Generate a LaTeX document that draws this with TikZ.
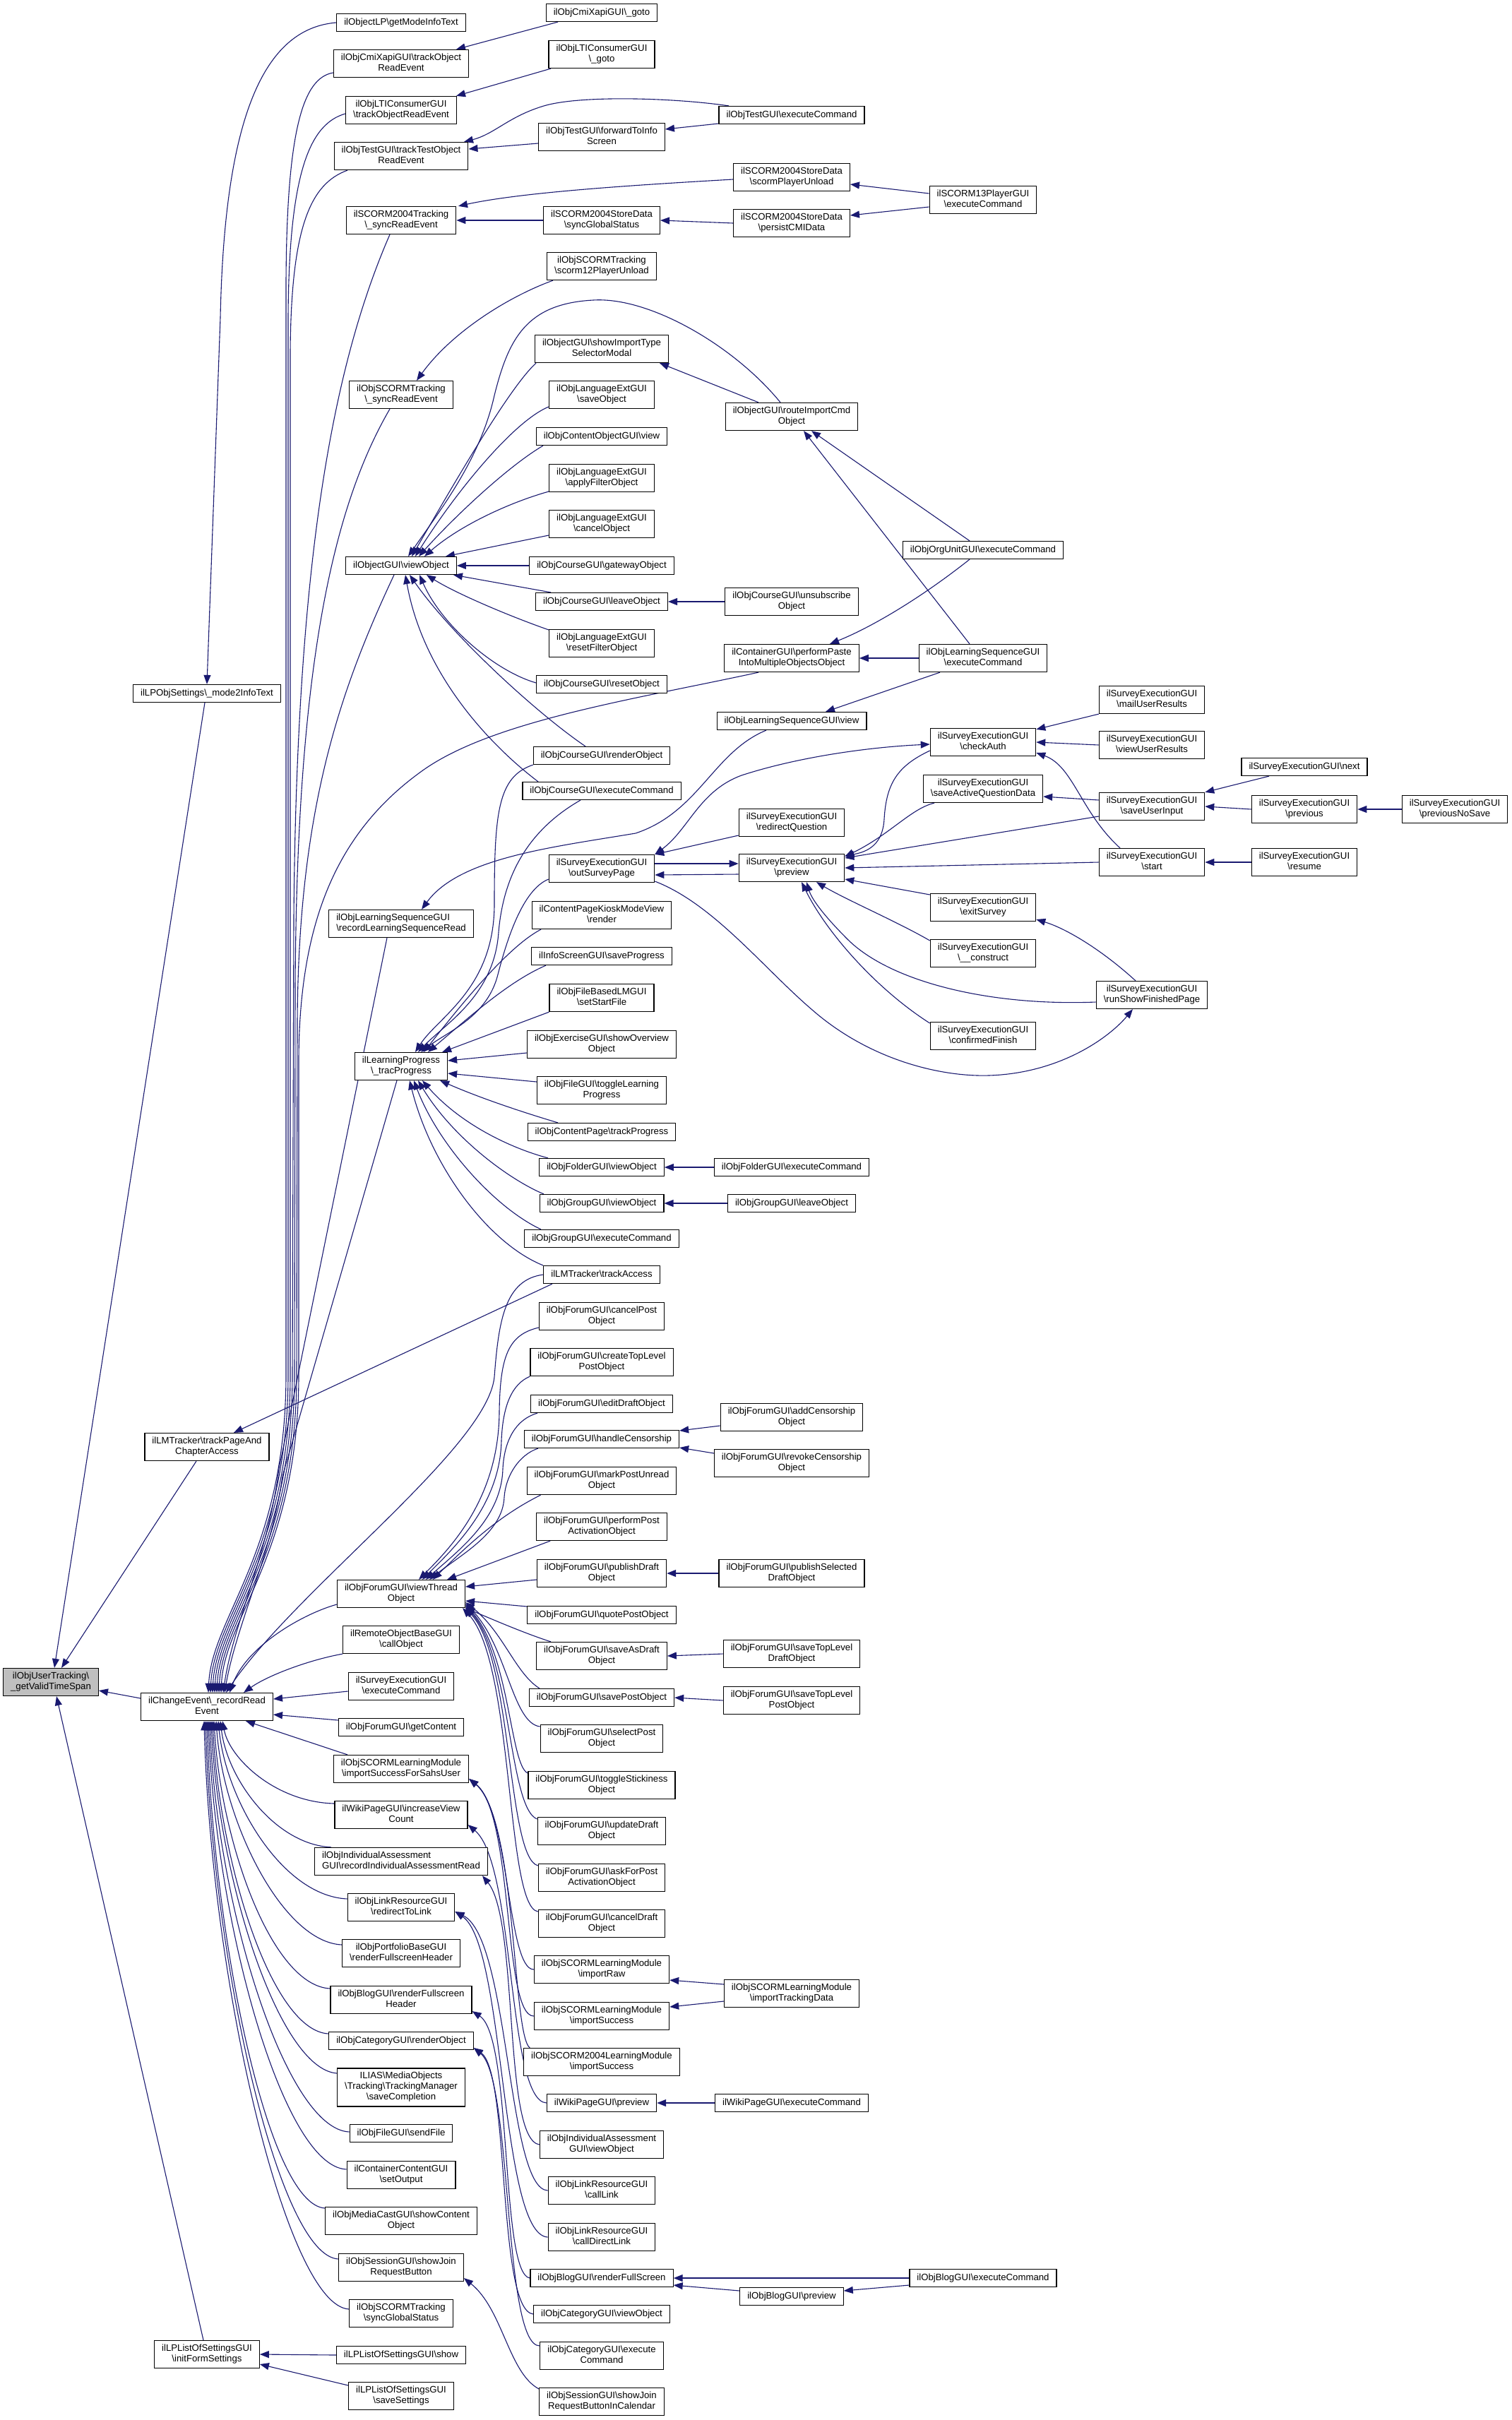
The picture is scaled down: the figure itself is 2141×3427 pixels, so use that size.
\documentclass[tikz,border=0pt]{standalone}
\usepackage{fontspec}
\setmainfont{Liberation Sans}
\usetikzlibrary{arrows.meta}
\definecolor{edgec}{HTML}{191970}
\definecolor{rootgray}{HTML}{BFBFBF}
\newcommand{\BSL}{\textbackslash}
\newcommand{\mknode}[4]{\node[nb] (#1) at (#2,#3) {#4};}
\pgfdeclarelayer{bg}
\pgfsetlayers{bg,main}
\begin{document}
\begin{tikzpicture}[x=1pt,y=-1pt,
  nb/.style={draw=black,line width=1.2pt,fill=white,align=center,font=\fontsize{13.2}{15}\selectfont,inner xsep=10.5pt,inner ysep=5pt,execute at begin node=\strut,execute at end node=\strut},
  edg/.style={draw=edgec,line width=1.1pt,-{Triangle[length=13pt,width=10pt]}},
  edgb/.style={draw=edgec,line width=1.1pt,{Triangle[length=13pt,width=10pt]}-{Triangle[length=13pt,width=10pt]}}]
\useasboundingbox (0,0) rectangle (2141,3427);
% ---------- nodes ----------
\node[nb,fill=rootgray] (root) at (72,2382) {ilObjUserTracking\BSL\\\_getValidTimeSpan};
\mknode{mode2}{293}{982}{ilLPObjSettings\BSL\_mode2InfoText}
\mknode{lmpage}{293}{2049}{ilLMTracker\BSL{}trackPageAnd\\ChapterAccess}
\mknode{chev}{293}{2417}{ilChangeEvent\BSL\_recordRead\\Event}
\mknode{initform}{293}{3334}{ilLPListOfSettingsGUI\\\BSL{}initFormSettings}
% column C
\mknode{getmode}{568}{32}{ilObjectLP\BSL{}getModeInfoText}
\mknode{cmitrack}{568}{90}{ilObjCmiXapiGUI\BSL{}trackObject\\ReadEvent}
\mknode{ltitrack}{568}{156}{ilObjLTIConsumerGUI\\\BSL{}trackObjectReadEvent}
\mknode{testtrack}{568}{221}{ilObjTestGUI\BSL{}trackTestObject\\ReadEvent}
\mknode{scosync}{568}{312}{ilSCORM2004Tracking\\\BSL\_syncReadEvent}
\mknode{objscosync}{568}{559}{ilObjSCORMTracking\\\BSL\_syncReadEvent}
\mknode{viewobj}{568}{801}{ilObjectGUI\BSL{}viewObject}
\node[nb,align=left] (lsread) at (568,1308) {ilObjLearningSequenceGUI\\\BSL{}recordLearningSequenceRead};
\mknode{tracprog}{568}{1510}{ilLearningProgress\\\BSL\_tracProgress}
\mknode{viewthread}{568}{2257}{ilObjForumGUI\BSL{}viewThread\\Object}
\mknode{callobj}{568}{2322}{ilRemoteObjectBaseGUI\\\BSL{}callObject}
\mknode{svexec}{568}{2388}{ilSurveyExecutionGUI\\\BSL{}executeCommand}
\mknode{getcontent}{568}{2446}{ilObjForumGUI\BSL{}getContent}
\mknode{impsahs}{568}{2505}{ilObjSCORMLearningModule\\\BSL{}importSuccessForSahsUser}
\mknode{incview}{568}{2570}{ilWikiPageGUI\BSL{}increaseView\\Count}
\node[nb,align=left] (iaread) at (568,2636) {ilObjIndividualAssessment\\GUI\BSL{}recordIndividualAssessmentRead};
\mknode{redirlink}{568}{2701}{ilObjLinkResourceGUI\\\BSL{}redirectToLink}
\mknode{portfolio}{568}{2766}{ilObjPortfolioBaseGUI\\\BSL{}renderFullscreenHeader}
\mknode{blogheader}{568}{2832}{ilObjBlogGUI\BSL{}renderFullscreen\\Header}
\mknode{catrender}{568}{2890}{ilObjCategoryGUI\BSL{}renderObject}
\mknode{ilias}{568}{2956}{ILIAS\BSL{}MediaObjects\\\BSL{}Tracking\BSL{}TrackingManager\\\BSL{}saveCompletion}
\mknode{sendfile}{568}{3021}{ilObjFileGUI\BSL{}sendFile}
\mknode{setoutput}{568}{3080}{ilContainerContentGUI\\\BSL{}setOutput}
\mknode{mediacast}{568}{3145}{ilObjMediaCastGUI\BSL{}showContent\\Object}
\mknode{showjoin}{568}{3211}{ilObjSessionGUI\BSL{}showJoin\\RequestButton}
\mknode{syncglobal}{568}{3276}{ilObjSCORMTracking\\\BSL{}syncGlobalStatus}
\mknode{lpshow}{568}{3335}{ilLPListOfSettingsGUI\BSL{}show}
\mknode{lpsave}{568}{3393}{ilLPListOfSettingsGUI\\\BSL{}saveSettings}
% column D
\mknode{cmigoto}{852}{18}{ilObjCmiXapiGUI\BSL\_goto}
\mknode{ltigoto}{852}{77}{ilObjLTIConsumerGUI\\\BSL\_goto}
\mknode{fwdinfo}{852}{194}{ilObjTestGUI\BSL{}forwardToInfo\\Screen}
\mknode{sdsync}{852}{312}{ilSCORM2004StoreData\\\BSL{}syncGlobalStatus}
\mknode{scounload}{852}{377}{ilObjSCORMTracking\\\BSL{}scorm12PlayerUnload}
\mknode{importsel}{852}{494}{ilObjectGUI\BSL{}showImportType\\SelectorModal}
\mknode{lsave}{852}{559}{ilObjLanguageExtGUI\\\BSL{}saveObject}
\mknode{covew}{852}{618}{ilObjContentObjectGUI\BSL{}view}
\mknode{lapply}{852}{677}{ilObjLanguageExtGUI\\\BSL{}applyFilterObject}
\mknode{lcancel}{852}{742}{ilObjLanguageExtGUI\\\BSL{}cancelObject}
\mknode{crsgw}{852}{801}{ilObjCourseGUI\BSL{}gatewayObject}
\mknode{crsleave}{852}{852}{ilObjCourseGUI\BSL{}leaveObject}
\mknode{lreset}{852}{911}{ilObjLanguageExtGUI\\\BSL{}resetFilterObject}
\mknode{crsreset}{852}{969}{ilObjCourseGUI\BSL{}resetObject}
\mknode{crsrender}{852}{1070}{ilObjCourseGUI\BSL{}renderObject}
\mknode{crsexec}{852}{1120}{ilObjCourseGUI\BSL{}executeCommand}
\mknode{outsurvey}{852}{1230}{ilSurveyExecutionGUI\\\BSL{}outSurveyPage}
\mknode{kiosk}{852}{1296}{ilContentPageKioskModeView\\\BSL{}render}
\mknode{saveprog}{852}{1354}{ilInfoScreenGUI\BSL{}saveProgress}
\mknode{setstart}{852}{1413}{ilObjFileBasedLMGUI\\\BSL{}setStartFile}
\mknode{exoverview}{852}{1479}{ilObjExerciseGUI\BSL{}showOverview\\Object}
\mknode{filetoggle}{852}{1544}{ilObjFileGUI\BSL{}toggleLearning\\Progress}
\mknode{cptrack}{852}{1603}{ilObjContentPage\BSL{}trackProgress}
\mknode{fldview}{852}{1653}{ilObjFolderGUI\BSL{}viewObject}
\mknode{grpview}{852}{1704}{ilObjGroupGUI\BSL{}viewObject}
\mknode{grpexec}{852}{1754}{ilObjGroupGUI\BSL{}executeCommand}
\mknode{lmaccess}{852}{1805}{ilLMTracker\BSL{}trackAccess}
\mknode{fcancelpost}{852}{1864}{ilObjForumGUI\BSL{}cancelPost\\Object}
\mknode{fcreatetop}{852}{1929}{ilObjForumGUI\BSL{}createTopLevel\\PostObject}
\mknode{feditdraft}{852}{1988}{ilObjForumGUI\BSL{}editDraftObject}
\mknode{fcensor}{852}{2038}{ilObjForumGUI\BSL{}handleCensorship}
\mknode{fmarkunread}{852}{2097}{ilObjForumGUI\BSL{}markPostUnread\\Object}
\mknode{fperfact}{852}{2162}{ilObjForumGUI\BSL{}performPost\\ActivationObject}
\mknode{fpubdraft}{852}{2228}{ilObjForumGUI\BSL{}publishDraft\\Object}
\mknode{fquote}{852}{2287}{ilObjForumGUI\BSL{}quotePostObject}
\mknode{fsavedraft}{852}{2345}{ilObjForumGUI\BSL{}saveAsDraft\\Object}
\mknode{fsavepost}{852}{2404}{ilObjForumGUI\BSL{}savePostObject}
\mknode{fselect}{852}{2462}{ilObjForumGUI\BSL{}selectPost\\Object}
\mknode{ftoggle}{852}{2528}{ilObjForumGUI\BSL{}toggleStickiness\\Object}
\mknode{fupddraft}{852}{2593}{ilObjForumGUI\BSL{}updateDraft\\Object}
\mknode{faskact}{852}{2659}{ilObjForumGUI\BSL{}askForPost\\ActivationObject}
\mknode{fcanceldraft}{852}{2724}{ilObjForumGUI\BSL{}cancelDraft\\Object}
\mknode{scoimpraw}{852}{2789}{ilObjSCORMLearningModule\\\BSL{}importRaw}
\mknode{scoimpsucc}{852}{2855}{ilObjSCORMLearningModule\\\BSL{}importSuccess}
\mknode{sco04imp}{852}{2920}{ilObjSCORM2004LearningModule\\\BSL{}importSuccess}
\mknode{wikiprev}{852}{2978}{ilWikiPageGUI\BSL{}preview}
\mknode{iaview}{852}{3037}{ilObjIndividualAssessment\\GUI\BSL{}viewObject}
\mknode{calllink}{852}{3102}{ilObjLinkResourceGUI\\\BSL{}callLink}
\mknode{calldirect}{852}{3168}{ilObjLinkResourceGUI\\\BSL{}callDirectLink}
\mknode{blogfull}{852}{3226}{ilObjBlogGUI\BSL{}renderFullScreen}
\mknode{catview}{852}{3277}{ilObjCategoryGUI\BSL{}viewObject}
\mknode{catexec}{852}{3336}{ilObjCategoryGUI\BSL{}execute\\Command}
\mknode{sessioncal}{852}{3401}{ilObjSessionGUI\BSL{}showJoin\\RequestButtonInCalendar}
% column E
\mknode{testexec}{1121}{163}{ilObjTestGUI\BSL{}executeCommand}
\mknode{scoplayerunload}{1121}{251}{ilSCORM2004StoreData\\\BSL{}scormPlayerUnload}
\mknode{persist}{1121}{316}{ilSCORM2004StoreData\\\BSL{}persistCMIData}
\mknode{routeimport}{1121}{590}{ilObjectGUI\BSL{}routeImportCmd\\Object}
\mknode{unsubscribe}{1121}{852}{ilObjCourseGUI\BSL{}unsubscribe\\Object}
\mknode{paste}{1121}{932}{ilContainerGUI\BSL{}performPaste\\IntoMultipleObjectsObject}
\mknode{lsview}{1121}{1021}{ilObjLearningSequenceGUI\BSL{}view}
\mknode{redirq}{1121}{1165}{ilSurveyExecutionGUI\\\BSL{}redirectQuestion}
\mknode{svpreview}{1121}{1229}{ilSurveyExecutionGUI\\\BSL{}preview}
\mknode{fldexec}{1121}{1653}{ilObjFolderGUI\BSL{}executeCommand}
\mknode{grpleave}{1121}{1704}{ilObjGroupGUI\BSL{}leaveObject}
\mknode{addcensor}{1121}{2007}{ilObjForumGUI\BSL{}addCensorship\\Object}
\mknode{revokecensor}{1121}{2072}{ilObjForumGUI\BSL{}revokeCensorship\\Object}
\mknode{pubselected}{1121}{2228}{ilObjForumGUI\BSL{}publishSelected\\DraftObject}
\mknode{savetopdraft}{1121}{2342}{ilObjForumGUI\BSL{}saveTopLevel\\DraftObject}
\mknode{savetoppost}{1121}{2408}{ilObjForumGUI\BSL{}saveTopLevel\\PostObject}
\mknode{imptracking}{1121}{2823}{ilObjSCORMLearningModule\\\BSL{}importTrackingData}
\mknode{wikiexec}{1121}{2978}{ilWikiPageGUI\BSL{}executeCommand}
\mknode{blogprev}{1121}{3252}{ilObjBlogGUI\BSL{}preview}
% column F
\mknode{sco13}{1392}{283}{ilSCORM13PlayerGUI\\\BSL{}executeCommand}
\mknode{orgunit}{1392}{779}{ilObjOrgUnitGUI\BSL{}executeCommand}
\mknode{lsexec}{1392}{932}{ilObjLearningSequenceGUI\\\BSL{}executeCommand}
\mknode{checkauth}{1392}{1051}{ilSurveyExecutionGUI\\\BSL{}checkAuth}
\mknode{saveactive}{1392}{1117}{ilSurveyExecutionGUI\\\BSL{}saveActiveQuestionData}
\mknode{exitsurvey}{1392}{1285}{ilSurveyExecutionGUI\\\BSL{}exitSurvey}
\mknode{construct}{1392}{1350}{ilSurveyExecutionGUI\\\BSL\_\_construct}
\mknode{confirmfinish}{1392}{1467}{ilSurveyExecutionGUI\\\BSL{}confirmedFinish}
\mknode{blogexec}{1392}{3226}{ilObjBlogGUI\BSL{}executeCommand}
% column G, H, I
\mknode{mailres}{1631}{991}{ilSurveyExecutionGUI\\\BSL{}mailUserResults}
\mknode{viewres}{1631}{1055}{ilSurveyExecutionGUI\\\BSL{}viewUserResults}
\mknode{saveinput}{1631}{1142}{ilSurveyExecutionGUI\\\BSL{}saveUserInput}
\mknode{svstart}{1631}{1221}{ilSurveyExecutionGUI\\\BSL{}start}
\mknode{runfinished}{1631}{1409}{ilSurveyExecutionGUI\\\BSL{}runShowFinishedPage}
\mknode{svnext}{1847}{1086}{ilSurveyExecutionGUI\BSL{}next}
\mknode{svprev}{1847}{1146}{ilSurveyExecutionGUI\\\BSL{}previous}
\mknode{svresume}{1847}{1221}{ilSurveyExecutionGUI\\\BSL{}resume}
\mknode{prevnosave}{2060}{1146}{ilSurveyExecutionGUI\\\BSL{}previousNoSave}
% ---------- edges ----------
\begin{pgfonlayer}{bg}
\fill[white] (0,0) rectangle (2141,3427);
% into root
\draw[edg] ([xshift=-3]mode2.south) -- ([xshift=5]root.north);
\draw[edg] ([xshift=-15]lmpage.south) -- ([xshift=15]root.north);
\draw[edg] ([yshift=12]chev.west) -- ([yshift=-12]root.east);
\draw[edg] ([xshift=-5]initform.north) -- ([xshift=8]root.south);
% into level B
\draw[edg] (getmode.west) .. controls (380,40) and (318,150) .. (312,450) -- (mode2.north);
\draw[edg] ([xshift=-70]lmaccess.south) -- ([xshift=38]lmpage.north);
\draw[edg] (lpshow.west) -- (initform.east);
\draw[edg] ([yshift=15]lpsave.west) -- ([yshift=-14]initform.east);
% into chev, top bundle
\draw[edg] ([yshift=-13]cmitrack.west) .. controls (430,110) and (406,180) .. (405,400) -- (405,1950) .. controls (404,2200) and (300,2290) .. ([xshift=2]chev.north);
\draw[edg] ([yshift=-5]ltitrack.west) .. controls (440,175) and (409,240) .. (408,450) -- (408,1950) .. controls (407,2200) and (303,2290) .. ([xshift=5]chev.north);
\draw[edg] ([xshift=-76]testtrack.south) .. controls (440,260) and (412,320) .. (411,500) -- (411,1950) .. controls (410,2200) and (306,2290) .. ([xshift=8]chev.north);
\draw[edg] ([xshift=-16]scosync.south) .. controls (470,520) and (420,800) .. (416,1300) -- (414,1950) .. controls (413,2200) and (309,2290) .. ([xshift=11]chev.north);
\draw[edg] ([xshift=-16]objscosync.south) .. controls (470,720) and (420,950) .. (418,1400) -- (417,1950) .. controls (416,2200) and (312,2290) .. ([xshift=14]chev.north);
\draw[edg] ([xshift=-10]viewobj.south) .. controls (480,980) and (422,1150) .. (421,1450) -- (420,1950) .. controls (419,2200) and (315,2290) .. ([xshift=17]chev.north);
\draw[edg] ([xshift=-47]paste.south) .. controls (900,990) and (700,1020) .. (600,1090) .. controls (480,1175) and (424,1300) .. (423,1500) -- (423,1950) .. controls (422,2200) and (318,2290) .. ([xshift=20]chev.north);
\draw[edg] ([xshift=-20]lsread.south) -- (395,2080) .. controls (380,2200) and (330,2300) .. ([xshift=23]chev.north);
\draw[edg] ([xshift=-6]tracprog.south) -- (400,2090) .. controls (385,2200) and (335,2300) .. ([xshift=25]chev.north);
\draw[edg] (lmaccess.west) .. controls (715,1812) and (706,1870) .. (700,1950) .. controls (690,2050) and (420,2250) .. ([xshift=27]chev.north);
\draw[edg] ([yshift=-15]viewthread.west) .. controls (430,2285) and (350,2330) .. ([xshift=32]chev.north);
\draw[edg] (callobj.south west) .. controls (440,2350) and (380,2372) .. ([xshift=52]chev.north);
% into chev, right side
\draw[edg] ([yshift=-7]svexec.west) -- ([yshift=11]chev.east);
\draw[edg] ([yshift=10]getcontent.west) -- ([yshift=-11]chev.east);
\draw[edg] ([xshift=-76]impsahs.north) -- ([xshift=55]chev.south);
% into chev, bottom fan
\draw[edg] ([yshift=16]incview.west) .. controls (390,2552) and (325,2490) .. ([xshift=22]chev.south);
\draw[edg] ([xshift=24]iaread.north west) .. controls (390,2612) and (322,2520) .. ([xshift=19]chev.south);
\draw[edg] ([yshift=12]redirlink.west) .. controls (400,2685) and (320,2550) .. ([xshift=16]chev.south);
\draw[edg] ([yshift=12]portfolio.west) .. controls (400,2750) and (316,2580) .. ([xshift=13]chev.south);
\draw[edg] ([yshift=16]blogheader.west) .. controls (385,2812) and (313,2610) .. ([xshift=10]chev.south);
\draw[edg] ([yshift=10]catrender.west) .. controls (385,2876) and (311,2640) .. ([xshift=8]chev.south);
\draw[edg] ([yshift=20]ilias.west) .. controls (395,2930) and (309,2660) .. ([xshift=6]chev.south);
\draw[edg] ([yshift=2]sendfile.west) .. controls (405,3015) and (307,2700) .. ([xshift=4]chev.south);
\draw[edg] ([yshift=8]setoutput.west) .. controls (400,3068) and (305,2720) .. ([xshift=2]chev.south);
\draw[edg] ([yshift=18]mediacast.west) .. controls (380,3122) and (303,2750) .. (chev.south);
\draw[edg] ([yshift=12]showjoin.west) .. controls (395,3195) and (301,2780) .. ([xshift=-2]chev.south);
\draw[edg] ([yshift=6]syncglobal.west) .. controls (406,3265) and (299,2810) .. ([xshift=-4]chev.south);
% top area
\draw[edg] ([xshift=-62]cmigoto.south) -- ([xshift=78]cmitrack.north);
\draw[edg] ([xshift=-72]ltigoto.south) -- ([xshift=78]ltitrack.north);
\draw[edg] ([yshift=-9]fwdinfo.west) -- ([yshift=10]testtrack.east);
\draw[edg] ([yshift=-12]testexec.west) -- ([yshift=11]fwdinfo.east);
\draw[edg] ([xshift=-89]testexec.north) .. controls (950,138) and (820,135) .. (770,150) .. controls (720,165) and (700,190) .. ([xshift=89]testtrack.north);
\draw[edg] (sdsync.west) -- (scosync.east);
\draw[edg] ([yshift=-3]scoplayerunload.west) .. controls (900,262) and (740,272) .. ([xshift=81]scosync.north);
\draw[edg] (persist.west) -- (sdsync.east);
\draw[edg] ([yshift=9]sco13.west) -- ([yshift=-10]scoplayerunload.east);
\draw[edg] ([yshift=-10]sco13.west) -- ([yshift=11]persist.east);
\draw[edg] ([xshift=-69]scounload.south) .. controls (720,420) and (640,470) .. ([xshift=22]objscosync.north);
% into viewobj
\draw[edg] ([xshift=-16]routeimport.north) .. controls (1040,490) and (920,420) .. (840,425) .. controls (745,430) and (720,480) .. (700,560) .. controls (680,650) and (625,720) .. ([xshift=10]viewobj.north);
\draw[edg] ([xshift=-93]importsel.south) .. controls (720,550) and (640,690) .. ([xshift=15]viewobj.north);
\draw[edg] ([yshift=-17]lsave.west) .. controls (730,595) and (650,690) .. ([xshift=20]viewobj.north);
\draw[edg] ([xshift=-83]covew.south) .. controls (720,660) and (645,730) .. ([xshift=25]viewobj.north);
\draw[edg] ([yshift=-19]lapply.west) .. controls (720,712) and (650,745) .. ([xshift=33]viewobj.north);
\draw[edg] ([yshift=-16]lcancel.west) -- ([xshift=-16]viewobj.north east);
\draw[edg] (crsgw.west) -- (viewobj.east);
\draw[edg] ([xshift=-72]crsleave.north) -- ([xshift=-5]viewobj.south east);
\draw[edg] ([yshift=19]lreset.west) .. controls (720,872) and (645,840) .. ([xshift=36]viewobj.south);
\draw[edg] ([yshift=2]crsreset.west) .. controls (700,950) and (625,885) .. ([xshift=26]viewobj.south);
\draw[edg] ([xshift=-23]crsrender.north) .. controls (760,1010) and (640,900) .. ([xshift=12]viewobj.south);
\draw[edg] ([xshift=-90]crsexec.north) .. controls (700,1060) and (600,960) .. ([xshift=6]viewobj.south);
% E/F upper
\draw[edg] (unsubscribe.west) -- (crsleave.east);
\draw[edg] ([xshift=-47]routeimport.north) -- ([xshift=82]importsel.south);
\draw[edg] ([xshift=-19]orgunit.north) -- ([xshift=28]routeimport.south);
\draw[edg] ([xshift=-19]lsexec.north) -- ([xshift=17]routeimport.south);
\draw[edg] ([xshift=-19]orgunit.south) .. controls (1300,850) and (1230,890) .. ([xshift=54]paste.north);
\draw[edg] (lsexec.west) -- (paste.east);
\draw[edg] ([xshift=-61]lsexec.south) -- ([xshift=48]lsview.north);
\draw[edg] ([xshift=-36]lsview.south) .. controls (1010,1065) and (990,1150) .. (900,1180) .. controls (780,1200) and (650,1215) .. ([xshift=29]lsread.north);
% into tracprog
\draw[edg] (crsrender.south west) .. controls (705,1100) and (700,1150) .. (700,1280) .. controls (700,1400) and (620,1440) .. ([xshift=20]tracprog.north);
\draw[edg] ([xshift=-30]crsexec.south) .. controls (740,1180) and (712,1250) .. (706,1320) .. controls (700,1410) and (630,1450) .. ([xshift=24]tracprog.north);
\draw[edg] ([yshift=-15]outsurvey.west) .. controls (740,1260) and (718,1330) .. (705,1380) .. controls (690,1440) and (635,1460) .. ([xshift=28]tracprog.north);
\draw[edg] ([xshift=-86]kiosk.south) .. controls (720,1340) and (655,1420) .. ([xshift=32]tracprog.north);
\draw[edg] ([xshift=-79]saveprog.south) .. controls (720,1390) and (665,1440) .. ([xshift=38]tracprog.north);
\draw[edg] (setstart.south west) -- ([xshift=-8]tracprog.north east);
\draw[edg] ([yshift=-12]exoverview.west) -- ([yshift=8]tracprog.east);
\draw[edg] ([yshift=12]filetoggle.west) -- ([yshift=-10]tracprog.east);
\draw[edg] ([xshift=-62]cptrack.north) .. controls (740,1575) and (680,1555) .. ([xshift=-11]tracprog.south east);
\draw[edg] ([xshift=-76]fldview.north) .. controls (720,1625) and (650,1590) .. ([xshift=30]tracprog.south);
\draw[edg] ([xshift=-82]grpview.north) .. controls (720,1670) and (640,1610) .. ([xshift=24]tracprog.south);
\draw[edg] ([xshift=-86]grpexec.north) .. controls (700,1710) and (620,1620) .. ([xshift=18]tracprog.south);
\draw[edg] ([xshift=-83]lmaccess.north) .. controls (690,1760) and (610,1650) .. ([xshift=12]tracprog.south);
\draw[edg] (fldexec.west) -- (fldview.east);
\draw[edg] (grpleave.west) -- (grpview.east);
% into viewthread
\draw[edg] ([yshift=-16]fcancelpost.west) .. controls (720,1890) and (708,1920) .. (707,2000) .. controls (706,2120) and (640,2190) .. ([xshift=25]viewthread.north);
\draw[edg] (fcreatetop.south west) .. controls (725,1960) and (712,1990) .. (710,2040) .. controls (708,2130) and (645,2190) .. ([xshift=30]viewthread.north);
\draw[edg] ([xshift=10]feditdraft.south west) .. controls (730,2010) and (714,2040) .. (712,2080) .. controls (710,2150) and (650,2195) .. ([xshift=35]viewthread.north);
\draw[edg] ([xshift=20]fcensor.south west) .. controls (735,2060) and (716,2090) .. (714,2120) .. controls (712,2170) and (655,2200) .. ([xshift=40]viewthread.north);
\draw[edg] ([xshift=20]fmarkunread.south west) .. controls (720,2140) and (680,2170) .. ([xshift=45]viewthread.north);
\draw[edg] ([xshift=20]fperfact.south west) -- ([xshift=-26]viewthread.north east);
\draw[edg] ([yshift=-9]fpubdraft.west) -- ([yshift=10]viewthread.east);
\draw[edg] ([yshift=12]fquote.west) -- ([yshift=-10]viewthread.east);
\draw[edg] ([xshift=-72]fsavedraft.north) .. controls (740,2312) and (690,2290) .. (viewthread.south east);
\draw[edg] ([xshift=-88]fsavepost.north) .. controls (730,2370) and (712,2310) .. ([yshift=-12]viewthread.east);
\draw[edg] ([yshift=17]fselect.west) .. controls (725,2440) and (718,2330) .. ([yshift=-14]viewthread.east);
\draw[edg] ([yshift=17]ftoggle.west) .. controls (722,2500) and (722,2340) .. ([yshift=-16]viewthread.east);
\draw[edg] ([yshift=17]fupddraft.west) .. controls (720,2560) and (724,2345) .. ([yshift=-18]viewthread.east);
\draw[edg] ([yshift=17]faskact.west) .. controls (718,2630) and (726,2350) .. (viewthread.south east);
\draw[edg] ([yshift=17]fcanceldraft.west) .. controls (716,2700) and (728,2355) .. ([xshift=-4]viewthread.south east);
% forum E -> D
\draw[edg] ([yshift=-12]addcensor.west) -- ([yshift=12]fcensor.east);
\draw[edg] ([yshift=14]revokecensor.west) -- ([yshift=-12]fcensor.east);
\draw[edg] (pubselected.west) -- (fpubdraft.east);
\draw[edg] (savetopdraft.west) -- (fsavedraft.east);
\draw[edg] (savetoppost.west) -- (fsavepost.east);
% lower D/E
\draw[edg] ([yshift=13]imptracking.west) -- ([yshift=-15]scoimpraw.east);
\draw[edg] ([yshift=-11]imptracking.west) -- ([yshift=13]scoimpsucc.east);
\draw[edg] (wikiexec.west) -- (wikiprev.east);
\draw[edg] (blogexec.west) -- (blogfull.east);
\draw[edg] ([yshift=8]blogprev.west) -- ([yshift=-10]blogfull.east);
\draw[edg] ([yshift=-10]blogexec.west) -- ([yshift=8]blogprev.east);
% D -> C lower
\draw[edg] (scoimpraw.west) .. controls (718,2789) and (722,2565) .. ([yshift=-14]impsahs.east);
\draw[edg] (scoimpsucc.west) .. controls (712,2855) and (728,2570) .. ([yshift=-14]impsahs.east);
\draw[edg] ([xshift=9]sco04imp.north west) .. controls (725,2880) and (732,2575) .. ([yshift=-14]impsahs.east);
\draw[edg] (wikiprev.west) .. controls (718,2975) and (730,2640) .. ([yshift=-14]incview.east);
\draw[edg] (iaview.west) .. controls (712,3030) and (735,2720) .. ([xshift=-8]iaread.south east);
\draw[edg] (calllink.west) .. controls (718,3100) and (722,2745) .. ([yshift=-6]redirlink.east);
\draw[edg] (calldirect.west) .. controls (708,3165) and (716,2755) .. ([yshift=-6]redirlink.east);
\draw[edg] (blogfull.west) .. controls (708,3220) and (726,2885) .. ([yshift=-16]blogheader.east);
\draw[edg] (catview.west) .. controls (704,3272) and (722,2935) .. ([yshift=-10]catrender.east);
\draw[edg] ([yshift=14]catexec.west) .. controls (712,3322) and (726,2945) .. ([yshift=-10]catrender.east);
\draw[edg] ([yshift=18]sessioncal.west) .. controls (720,3360) and (712,3270) .. ([yshift=-15]showjoin.east);
% survey cluster
\draw[edg] ([yshift=-18]redirq.west) -- (outsurvey.north east);
\draw[edgb] (outsurvey.north east) .. controls (975,1175) and (990,1120) .. (1050,1098) .. controls (1130,1072) and (1230,1058) .. ([yshift=-3]checkauth.west);
\draw[edg] ([yshift=7]outsurvey.east) -- ([yshift=6]svpreview.west);
\draw[edg] ([yshift=-9]svpreview.west) -- ([yshift=-9]outsurvey.east);
\draw[edg] ([yshift=-18]outsurvey.east) .. controls (1010,1280) and (1080,1370) .. (1150,1430) .. controls (1230,1500) and (1330,1525) .. (1400,1523) .. controls (1500,1520) and (1570,1470) .. ([xshift=-27]runfinished.south);
\draw[edg] ([yshift=-12]checkauth.west) .. controls (1270,1085) and (1255,1110) .. (1252,1160) .. controls (1250,1195) and (1230,1206) .. ([yshift=17]svpreview.east);
\draw[edg] ([xshift=-69]saveactive.south) .. controls (1290,1145) and (1260,1182) .. ([yshift=16]svpreview.east);
\draw[edg] ([yshift=-14]saveinput.west) -- ([yshift=14]svpreview.east);
\draw[edg] (svstart.west) -- (svpreview.east);
\draw[edg] ([yshift=18]exitsurvey.west) -- ([yshift=-16]svpreview.east);
\draw[edg] ([yshift=18]construct.west) .. controls (1270,1305) and (1200,1275) .. ([xshift=35]svpreview.south);
\draw[edg] ([yshift=-10]runfinished.west) .. controls (1400,1425) and (1260,1390) .. (1200,1330) .. controls (1170,1300) and (1150,1275) .. ([xshift=21]svpreview.south);
\draw[edg] ([yshift=18]confirmfinish.west) .. controls (1240,1400) and (1170,1320) .. ([xshift=14]svpreview.south);
\draw[edg] ([xshift=-23]runfinished.north) .. controls (1560,1345) and (1510,1315) .. ([yshift=-17]exitsurvey.east);
\draw[edg] (mailres.south west) -- ([yshift=-2]checkauth.north east);
\draw[edg] (viewres.west) -- (checkauth.east);
\draw[edg] ([xshift=-45]svstart.north) .. controls (1530,1150) and (1520,1085) .. ([yshift=-15]checkauth.east);
\draw[edg] ([yshift=9]saveinput.west) -- ([yshift=-11]saveactive.east);
\draw[edg] ([xshift=-50]svnext.south) -- (saveinput.north east);
\draw[edg] (svprev.west) -- (saveinput.east);
\draw[edg] (prevnosave.west) -- (svprev.east);
\draw[edg] (svresume.west) -- (svstart.east);
\end{pgfonlayer}
\end{tikzpicture}
\end{document}
